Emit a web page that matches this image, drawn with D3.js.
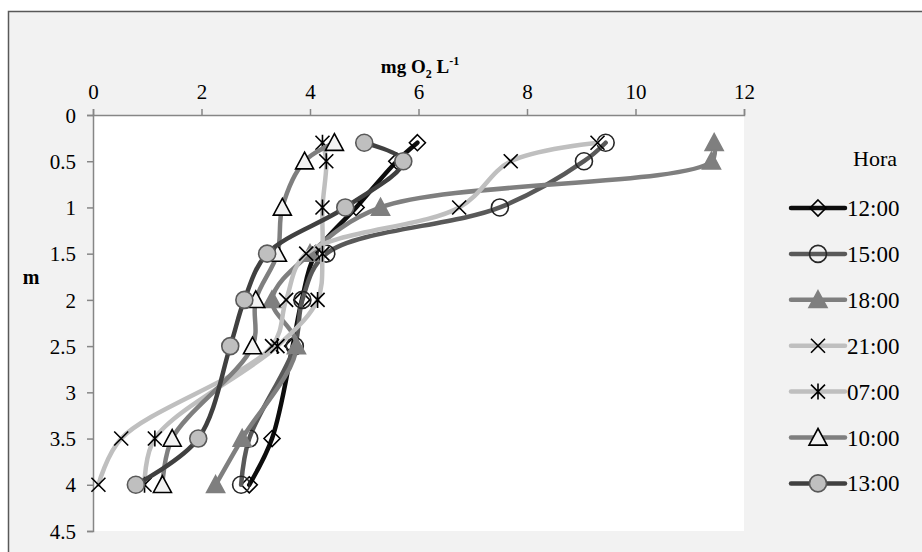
<!DOCTYPE html>
<html>
<head>
<meta charset="utf-8">
<script src="https://cdn.jsdelivr.net/npm/d3@7"></script>
<style>
  html, body { margin: 0; padding: 0; background: #ffffff; }
  svg { display: block; }
  svg text { font-family: "Liberation Serif", "Times New Roman", serif; fill: #000; }
</style>
</head>
<body>
<svg id="chart" width="922" height="552"></svg>
<script>
// Depth of each sample (m)
const depths = [0.3, 0.5, 1, 1.5, 2, 2.5, 3.5, 4];

// Dissolved oxygen (mg O2 L-1) per sampling hour
const hours = ["12:00", "15:00", "18:00", "21:00", "07:00", "10:00", "13:00"];
const v1200 = [5.98, 5.6, 4.85, 4.1, 3.85, 3.68, 3.3, 2.88];
const v1500 = [9.45, 9.05, 7.5, 4.3, 3.86, 3.72, 2.88, 2.73];
const v1800 = [11.45, 11.4, 5.3, 4.0, 3.3, 3.75, 2.75, 2.26];
const v2100 = [9.3, 7.7, 6.75, 3.93, 3.56, 3.3, 0.52, 0.1];
const v0700 = [4.23, 4.3, 4.23, 4.23, 4.14, 3.4, 1.14, 0.95];
const v1000 = [4.45, 3.9, 3.49, 3.4, 3.0, 2.94, 1.46, 1.28];
const v1300 = [5.0, 5.72, 4.65, 3.21, 2.79, 2.53, 1.94, 0.79];

const xTicks = [0, 2, 4, 6, 8, 10, 12];
const yTicks = [0, 0.5, 1, 1.5, 2, 2.5, 3, 3.5, 4, 4.5];

const seriesValues = [v1200, v1500, v1800, v2100, v0700, v1000, v1300];
const styles = [
  { line: "#0d0d0d", marker: "diamond", fill: "none", stroke: "#000" },
  { line: "#595959", marker: "circle", fill: "none", stroke: "#262626" },
  { line: "#7f7f7f", marker: "triangle", fill: "#7f7f7f", stroke: "#7f7f7f" },
  { line: "#bfbfbf", marker: "x", fill: "none", stroke: "#000" },
  { line: "#bfbfbf", marker: "star", fill: "none", stroke: "#000" },
  { line: "#7f7f7f", marker: "triangle", fill: "#f2f2f2", stroke: "#000" },
  { line: "#404040", marker: "circle", fill: "#bfbfbf", stroke: "#595959" }
];

const FONT = '"Liberation Serif", "Times New Roman", serif';
const svg = d3.select("#chart");

// Chart area frame
svg.append("rect")
  .attr("x", 8.5).attr("y", 11.5)
  .attr("width", 930).attr("height", 560)
  .attr("fill", "#f2f2f2").attr("stroke", "#595959").attr("stroke-width", 1.5);

const plot = { left: 93, right: 744, top: 115, bottom: 531 };

const x = d3.scaleLinear().domain([0, 12]).range([plot.left, plot.right]);
const y = d3.scaleLinear().domain([0, 4.5]).range([plot.top, plot.bottom]);

svg.append("rect")
  .attr("x", plot.left).attr("y", plot.top)
  .attr("width", plot.right - plot.left).attr("height", plot.bottom - plot.top)
  .attr("fill", "#ffffff");

// Axes
const xAxis = svg.append("g")
  .attr("transform", `translate(0,${plot.top})`)
  .call(d3.axisTop(x).tickValues(xTicks).tickFormat(d3.format("d")).tickSizeOuter(0).tickSize(6).tickPadding(10));
const yAxis = svg.append("g")
  .attr("transform", `translate(${plot.left},0)`)
  .call(d3.axisLeft(y).tickValues(yTicks).tickFormat(d => String(d)).tickSizeOuter(0).tickSize(6).tickPadding(11));

[xAxis, yAxis].forEach(g => {
  g.select(".domain").attr("stroke", "#868686").attr("stroke-width", 1.5);
  g.selectAll(".tick line").attr("stroke", "#868686").attr("stroke-width", 1.5);
  g.selectAll(".tick text")
    .style("font-family", FONT)
    .style("font-size", "21px").style("fill", "#000");
});
yAxis.selectAll(".tick text").attr("dy", "0.34em");

// Axis titles
const xt = svg.append("text")
  .attr("x", 420).attr("y", 73)
  .attr("text-anchor", "middle")
  .style("font-family", FONT).style("font-size", "19px").style("font-weight", "bold");
xt.append("tspan").text("mg O");
xt.append("tspan").style("font-size", "12px").attr("dy", 5).text("2");
xt.append("tspan").attr("dy", -5).text(" L");
xt.append("tspan").style("font-size", "12px").attr("dy", -8).text("-1");

svg.append("text")
  .attr("x", 31).attr("y", 284)
  .attr("text-anchor", "middle")
  .style("font-family", FONT).style("font-size", "20px").style("font-weight", "bold")
  .text("m");

// Marker drawing
function drawMarker(g, type, cx, cy, st) {
  if (type === "circle") {
    g.append("circle").attr("cx", cx).attr("cy", cy).attr("r", 8.5)
      .attr("fill", st.fill).attr("stroke", st.stroke).attr("stroke-width", 1.6);
  } else if (type === "diamond") {
    const s = 8;
    g.append("path")
      .attr("d", `M${cx},${cy - s}L${cx + s},${cy}L${cx},${cy + s}L${cx - s},${cy}Z`)
      .attr("fill", st.fill).attr("stroke", st.stroke).attr("stroke-width", 1.6);
  } else if (type === "triangle") {
    const s = 9;
    g.append("path")
      .attr("d", `M${cx},${cy - s}L${cx + s},${cy + s * 0.85}L${cx - s},${cy + s * 0.85}Z`)
      .attr("fill", st.fill).attr("stroke", st.stroke).attr("stroke-width", 1.6);
  } else if (type === "x" || type === "star") {
    const s = 7;
    let d = `M${cx - s},${cy - s}L${cx + s},${cy + s}M${cx - s},${cy + s}L${cx + s},${cy - s}`;
    if (type === "star") d += `M${cx},${cy - s - 1}L${cx},${cy + s + 1}`;
    g.append("path").attr("d", d)
      .attr("fill", "none").attr("stroke", st.stroke).attr("stroke-width", 1.6);
  }
}

// Profiles: smoothed lines, each series drawn with its markers on top
const line = d3.line()
  .x(d => x(d[0]))
  .y(d => y(d[1]))
  .curve(d3.curveCatmullRom.alpha(0.5));

const marks = svg.append("g");
seriesValues.forEach((vals, i) => {
  const st = styles[i];
  const pts = vals.map((v, j) => [v, depths[j]]);
  const g = marks.append("g");
  g.append("path").datum(pts)
    .attr("d", line)
    .attr("fill", "none").attr("stroke", st.line)
    .attr("stroke-width", 4.5).attr("stroke-linecap", "round").attr("stroke-linejoin", "round");
  pts.forEach(p => drawMarker(g, st.marker, x(p[0]), y(p[1]), st));
});

// Legend
const legend = svg.append("g");
legend.append("text").attr("x", 853).attr("y", 166)
  .style("font-family", FONT).style("font-size", "22px").text("Hora");
hours.forEach((h, i) => {
  const st = styles[i];
  const cy = 208 + i * 45.9;
  const g = legend.append("g");
  g.append("line").attr("x1", 791).attr("x2", 845).attr("y1", cy).attr("y2", cy)
    .attr("stroke", st.line).attr("stroke-width", 4.5).attr("stroke-linecap", "round");
  drawMarker(g, st.marker, 818, cy, st);
  g.append("text").attr("x", 847).attr("y", cy + 8)
    .style("font-family", FONT).style("font-size", "23px").text(h);
});
</script>
</body>
</html>
